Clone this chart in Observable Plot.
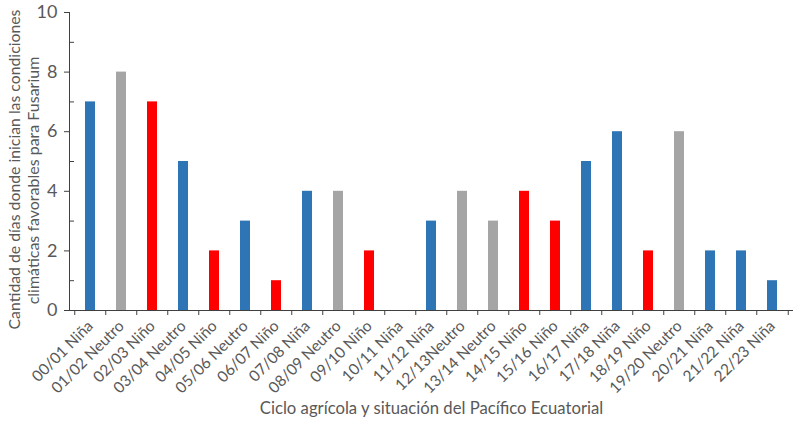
<!DOCTYPE html>
<html>
<head>
<meta charset="utf-8">
<script src="https://cdn.jsdelivr.net/npm/d3@7"></script>
<script src="https://cdn.jsdelivr.net/npm/@observablehq/plot@0.6"></script>
<style>
  html, body { margin: 0; padding: 0; background: #fff; }
  svg { font-family: Lato, "Open Sans", sans-serif; }
</style>
</head>
<body>
<div id="chart"></div>
<script>
const categories = ["00/01 Niña","01/02 Neutro","02/03 Niño","03/04 Neutro","04/05 Niño","05/06 Neutro","06/07 Niño","07/08 Niña","08/09 Neutro","09/10 Niño","10/11 Niña","11/12 Niña","12/13Neutro","13/14 Neutro","14/15 Niño","15/16 Niño","16/17 Niña","17/18 Niña","18/19 Niño","19/20 Neutro","20/21 Niña","21/22 Niña","22/23 Niña"];
const values = [7, 8, 7, 5, 2, 3, 1, 4, 4, 2, 0, 3, 4, 3, 4, 3, 5, 6, 2, 6, 2, 2, 1];
const barGroup = ["Niña","Neutro","Niño","Niña","Niño","Niña","Niño","Niña","Neutro","Niño","Niña","Niña","Neutro","Neutro","Niño","Niño","Niña","Niña","Niño","Neutro","Niña","Niña","Niña"];
const groups = ["Niña","Neutro","Niño"];
const groupColors = ["#2E75B6","#A5A5A5","#FF0000"];
const yMajorTicks = [0, 2, 4, 6, 8, 10];
const yMinorTicks = [1, 3, 5, 7, 9];
const yTitle = ["Cantidad de días donde inician las condiciones", "climáticas favorables para Fusarium"];
const xTitle = "Ciclo agrícola y situación del Pacífico Ecuatorial";

const data = categories.map((c, i) => ({cat: c, value: values[i], group: barGroup[i]}));

const W = 800, H = 427, mL = 69, mR = 7, mT = 12, mB = 117;
const step = (W - mL - mR) / categories.length;
const axisColor = "#404040";
const textColor = "#595959";

const chart = Plot.plot({
  width: W, height: H,
  marginLeft: mL, marginRight: mR, marginTop: mT, marginBottom: mB,
  style: {fontFamily: "Lato, 'Open Sans', sans-serif", color: textColor, background: "#fff"},
  x: {domain: categories, paddingInner: 0.68, paddingOuter: 0.34, label: null},
  y: {domain: [0, 10], label: null},
  color: {domain: groups, range: groupColors},
  marks: [
    Plot.barY(data, {x: "cat", y: "value", fill: "group"}),
    Plot.ruleY([0], {stroke: axisColor}),
    Plot.frame({anchor: "left", stroke: axisColor}),
    Plot.axisY({ticks: yMajorTicks, tickSize: 5, tickPadding: 7, fontSize: 18, stroke: axisColor, fill: textColor, label: null}),
    Plot.axisY({ticks: yMinorTicks, tickSize: 5, dx: 5, tickFormat: () => "", stroke: axisColor, label: null}),
    Plot.ruleX(categories, {x: d => d, y1: 0, y2: 0, insetBottom: -5, dx: -step / 2, stroke: axisColor}),
    Plot.ruleX([categories[categories.length - 1]], {x: d => d, y1: 0, y2: 0, insetBottom: -5, dx: step / 2, stroke: axisColor}),
    Plot.axisX({tickSize: 0, tickRotate: -45, tickPadding: 13, fontSize: 15.5, fill: textColor, label: null}),
    Plot.text([yTitle[0]], {text: d => d, frameAnchor: "left", textAnchor: "middle", rotate: -90, dx: -55, dy: 8, fontSize: 15.8, fill: textColor}),
    Plot.text([yTitle[1]], {text: d => d, frameAnchor: "left", textAnchor: "middle", rotate: -90, dx: -36, dy: 19, fontSize: 16, fill: textColor}),
    Plot.text([xTitle], {text: d => d, frameAnchor: "bottom", dy: 103, fontSize: 16.7, fill: textColor})
  ]
});
document.getElementById("chart").append(chart);
</script>
</body>
</html>
